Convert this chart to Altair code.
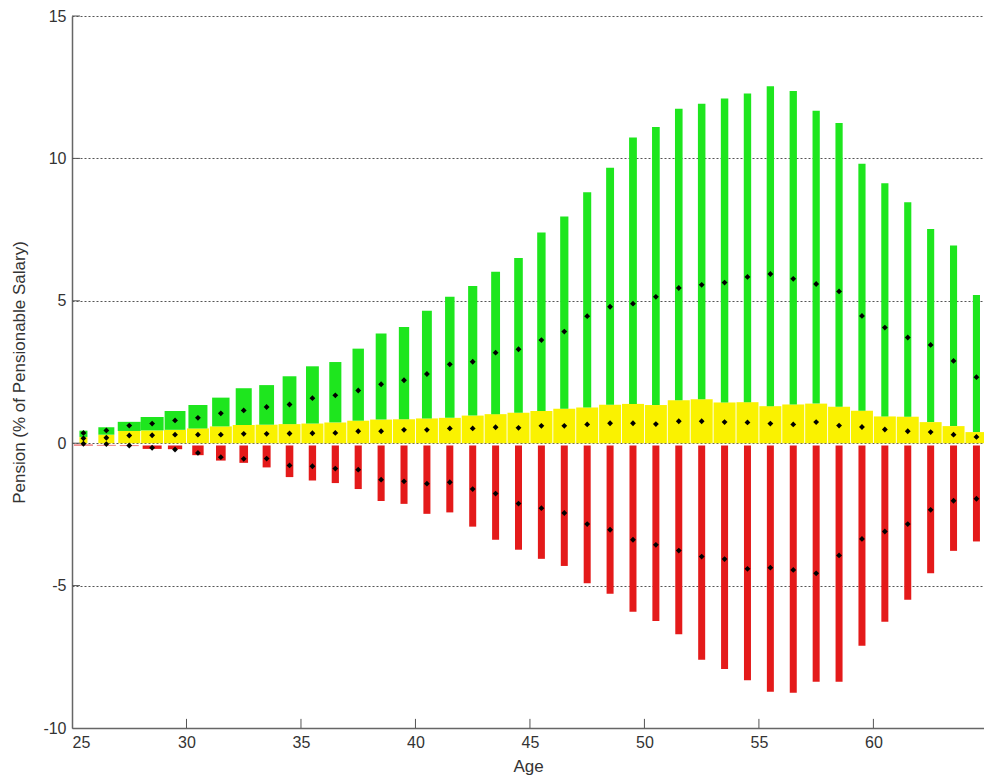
import altair as alt
import pandas as pd

# ---------------- data ----------------
AGES = list(range(25, 65))

GREEN_TOP = [0.44, 0.56, 0.75, 0.92, 1.13, 1.34, 1.60, 1.93, 2.04, 2.35,
             2.70, 2.85, 3.32, 3.85, 4.08, 4.65, 5.14, 5.52, 6.02, 6.50,
             7.40, 7.96, 8.81, 9.67, 10.73, 11.10, 11.74, 11.92, 12.10, 12.28,
             12.53, 12.37, 11.67, 11.24, 9.81, 9.13, 8.46, 7.52, 6.94, 5.20]
GREEN_MID = [0.36, 0.45, 0.62, 0.69, 0.80, 0.89, 1.05, 1.15, 1.27, 1.36,
             1.58, 1.68, 1.85, 2.07, 2.21, 2.43, 2.77, 2.86, 3.18, 3.30,
             3.62, 3.92, 4.46, 4.79, 4.90, 5.14, 5.45, 5.56, 5.64, 5.84,
             5.94, 5.77, 5.59, 5.33, 4.47, 4.06, 3.71, 3.45, 2.89, 2.32]
YELLOW_TOP = [0.22, 0.30, 0.43, 0.45, 0.47, 0.52, 0.59, 0.64, 0.65, 0.67,
              0.69, 0.73, 0.79, 0.83, 0.84, 0.87, 0.89, 0.97, 1.02, 1.07,
              1.13, 1.21, 1.25, 1.35, 1.38, 1.34, 1.51, 1.54, 1.43, 1.44,
              1.30, 1.36, 1.39, 1.28, 1.14, 0.94, 0.93, 0.74, 0.60, 0.39]
YELLOW_MID = [0.17, 0.19, 0.27, 0.28, 0.30, 0.30, 0.30, 0.33, 0.33, 0.34,
              0.35, 0.36, 0.42, 0.42, 0.47, 0.47, 0.52, 0.52, 0.56, 0.54,
              0.61, 0.61, 0.66, 0.70, 0.70, 0.67, 0.77, 0.77, 0.74, 0.73,
              0.69, 0.66, 0.74, 0.62, 0.57, 0.48, 0.42, 0.39, 0.30, 0.22]
RED_MID = [-0.02, -0.03, -0.08, -0.16, -0.22, -0.34, -0.49, -0.55, -0.54, -0.78,
           -0.81, -0.89, -0.93, -1.28, -1.34, -1.42, -1.37, -1.61, -1.77, -2.12,
           -2.28, -2.45, -2.84, -3.04, -3.39, -3.57, -3.77, -3.98, -4.07, -4.41,
           -4.37, -4.45, -4.57, -3.94, -3.36, -3.10, -2.84, -2.34, -2.02, -1.95]
RED_BOT = [-0.05, -0.06, -0.10, -0.20, -0.21, -0.42, -0.61, -0.69, -0.85, -1.19,
           -1.31, -1.40, -1.61, -2.03, -2.13, -2.48, -2.43, -2.93, -3.39, -3.74,
           -4.06, -4.31, -4.92, -5.29, -5.92, -6.24, -6.71, -7.60, -7.93, -8.32,
           -8.73, -8.76, -8.38, -8.38, -7.11, -6.27, -5.50, -4.57, -3.78, -3.45]
YELLOW_BASE = 0.0
RED_BASE = -0.08

X_TICKS = [25, 30, 35, 40, 45, 50, 55, 60]
Y_TICKS = [-10, -5, 0, 5, 10, 15]

# ---------------- layout / style ----------------
W, H = 912, 712
XMIN, XMAX = 25, 64.83
PXY = W / (XMAX - XMIN)  # pixels per year
FONT = "Liberation Sans"
GREEN, YELLOW, RED = "#1ee61e", "#faf200", "#e41a1a"

df = pd.DataFrame({
    "age": AGES, "gtop": GREEN_TOP, "gmid": GREEN_MID,
    "ytop": YELLOW_TOP, "ymid": YELLOW_MID,
    "rmid": RED_MID, "rbot": RED_BOT,
})

xscale = alt.Scale(domain=[XMIN, XMAX], nice=False, zero=False)
yscale = alt.Scale(domain=[-10, 15], nice=False, zero=False)
xaxis = alt.Axis(values=X_TICKS, grid=False, ticks=False, labelPadding=6,
                 titlePadding=8, labelExpr="'' + datum.value")
yaxis = alt.Axis(values=Y_TICKS, grid=True, ticks=False, labelPadding=6,
                 titlePadding=14, labelExpr="'' + datum.value")
XT = "Age"
YT = "Pension (% of Pensionable Salary)"


def X(f):
    return alt.X(f"{f}:Q", scale=xscale, axis=xaxis, title=XT)


def Y(f):
    return alt.Y(f"{f}:Q", scale=yscale, axis=yaxis, title=YT)


base = alt.Chart(df).transform_calculate(
    xc="datum.age + 0.5",
    gw=f"min(8 + 8*(datum.age-25), 23, 7 + 16*exp(-(datum.age-28)/7)) / {PXY} / 2",
    rw=f"min(19, 7 + 12*exp(-(datum.age-28)/2)) / {PXY} / 2",
    yb=f"{YELLOW_BASE}",
    rb=f"{RED_BASE}",
).transform_calculate(
    yw=f"datum.age < 27 ? datum.gw : 22 / {PXY} / 2",
).transform_calculate(
    gx1="datum.xc - datum.gw", gx2="datum.xc + datum.gw",
    rx1="datum.xc - datum.rw", rx2="datum.xc + datum.rw",
    yx1="datum.xc - datum.yw", yx2="datum.xc + datum.yw",
)

yellow = base.mark_bar(color=YELLOW, clip=True).encode(
    x=X("yx1"), x2="yx2", y=Y("ytop"), y2="yb")
green = base.mark_bar(color=GREEN, clip=True).encode(
    x=X("gx1"), x2="gx2", y=Y("gtop"), y2="ytop")
red = base.mark_bar(color=RED, clip=True).encode(
    x=X("rx1"), x2="rx2", y=Y("rb"), y2="rbot")
dots = base.transform_fold(["gmid", "ymid", "rmid"], as_=["k", "v"]).mark_point(
    shape="diamond", filled=True, color="black", size=34, opacity=1, clip=True
).encode(x=X("xc"), y=Y("v"))

xt = alt.Chart(pd.DataFrame({"t": X_TICKS[1:]})).transform_calculate(
    a="-10", b="-9.68").mark_rule(color="#555", strokeWidth=1).encode(
    x=X("t"), y=Y("a"), y2="b")
yt = alt.Chart(pd.DataFrame({"t": Y_TICKS[1:]})).transform_calculate(
    a="25", b="25.35").mark_rule(color="#555", strokeWidth=1).encode(
    x=X("a"), x2="b", y=Y("t"))

chart = alt.layer(yellow, green, red, dots, xt, yt).properties(
    width=W, height=H, autosize="none",
    padding={"left": 72, "top": 16, "right": 0, "bottom": 51},
    background="white",
).configure_view(stroke=None).configure_axis(
    labelFont=FONT, titleFont=FONT, labelFontSize=16, titleFontSize=17,
    labelColor="#333", titleColor="#333", titleFontWeight="normal",
    domainColor="#666", domainWidth=1.5,
    gridColor="#555", gridDash=[2, 2], gridWidth=1, gridOpacity=1,
)

chart.save("out.html", embed_options={"renderer": "svg", "actions": False})
